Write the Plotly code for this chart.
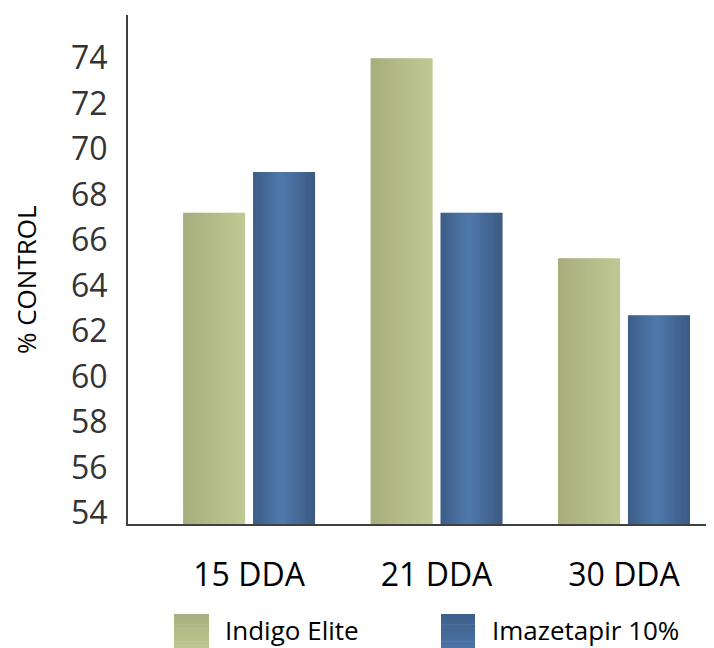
import plotly.graph_objects as go

categories = ["15 DDA", "21 DDA", "30 DDA"]
indigo_elite = [67.2, 74.0, 65.2]
imazetapir = [69.0, 67.2, 62.7]
series_names = ["Indigo Elite", "Imazetapir 10%"]
y_ticks = [54, 56, 58, 60, 62, 64, 66, 68, 70, 72, 74]


def hex2rgb(h):
    h = h.lstrip("#")
    return tuple(int(h[i:i + 2], 16) for i in (0, 2, 4))


def lerp(c1, c2, t):
    a, b = hex2rgb(c1), hex2rgb(c2)
    return "rgb(%d,%d,%d)" % tuple(round(a[i] + (b[i] - a[i]) * t) for i in range(3))


def green_shade(t):
    return lerp("#A7AE7C", "#C0C994", t)


def blue_shade(t):
    peak = 0.45
    if t < peak:
        return lerp("#3C5C87", "#4F7AAB", t / peak)
    return lerp("#4F7AAB", "#3C5983", (t - peak) / (1 - peak))


FONT = "Open Sans"
N = 20
BAR_W = 0.331
series = [
    (series_names[0], indigo_elite, green_shade, -0.352),
    (series_names[1], imazetapir, blue_shade, 0.021),
]

fig = go.Figure()
for name, vals, shade, off in series:
    w = BAR_W / N
    for k in range(N):
        t = (k + 0.5) / N
        fig.add_trace(go.Bar(
            x=categories, y=vals, name=name,
            offset=off + k * w,
            width=w * (1.25 if k < N - 1 else 1.0),
            marker=dict(color=shade(t), line=dict(width=0)),
            showlegend=False, hoverinfo="skip" if k else "x+y+name",
        ))

# page offset (browser body margin) compensation
PAGE = 8
W, H = 714 - PAGE, 648 - PAGE
plot_x0, plot_x1 = 128 - PAGE, 714 - PAGE
plot_y0, plot_y1 = 15 - PAGE, 524 - PAGE
plot_w = plot_x1 - plot_x0
plot_h = plot_y1 - plot_y0


def px_x(p):
    return (p - PAGE - plot_x0) / plot_w


def px_y(p):
    return (plot_y1 - (p - PAGE)) / plot_h


shapes = []
annotations = []
legend_items = [
    (series_names[0], 174, 209, 223, ("#A8AF7E", "#BEC791")),
    (series_names[1], 441, 475, 490, ("#3E5E8A", "#4A74A5")),
]
M = 10
top, bot = 614, 648
for name, sx0, sx1, tx, (c_top, c_bot) in legend_items:
    h = (bot - top) / M
    for k in range(M):
        shapes.append(dict(
            type="rect", xref="paper", yref="paper",
            x0=px_x(sx0), x1=px_x(sx1),
            y0=px_y(top + (k + 1) * h + (0.6 if k < M - 1 else 0)), y1=px_y(top + k * h),
            fillcolor=lerp(c_top, c_bot, (k + 0.5) / M), line=dict(width=0), layer="above",
        ))
    annotations.append(dict(
        text=name, xref="paper", yref="paper", x=px_x(tx), y=px_y(630),
        xanchor="left", yanchor="middle", showarrow=False,
        font=dict(family=FONT, size=26, color="#000000"),
    ))

annotations.append(dict(
    text="% CONTROL", xref="paper", yref="paper", x=px_x(26), y=px_y(280),
    xanchor="center", yanchor="middle", textangle=-90, showarrow=False,
    font=dict(family=FONT, size=26, color="#000000"),
))

fig.update_layout(
    width=W, height=H,
    margin=dict(l=plot_x0, r=W - plot_x1, t=plot_y0, b=H - plot_y1),
    paper_bgcolor="white", plot_bgcolor="white",
    barmode="overlay",
    showlegend=False,
    shapes=shapes,
    annotations=annotations,
    xaxis=dict(
        type="category", range=[-0.646, 2.48],
        showline=True, linecolor="#404040", linewidth=2,
        ticks="", showgrid=False, zeroline=False,
        tickfont=dict(family=FONT, size=32, color="#000000"),
        ticklabelstandoff=22,
    ),
    yaxis=dict(
        range=[53.52, 75.9], tickvals=y_ticks,
        showline=True, linecolor="#404040", linewidth=2,
        ticks="", showgrid=False, zeroline=False,
        tickfont=dict(family=FONT, size=32, color="#333333"),
        ticklabelstandoff=12,
    ),
)

fig.write_html("out.html")
